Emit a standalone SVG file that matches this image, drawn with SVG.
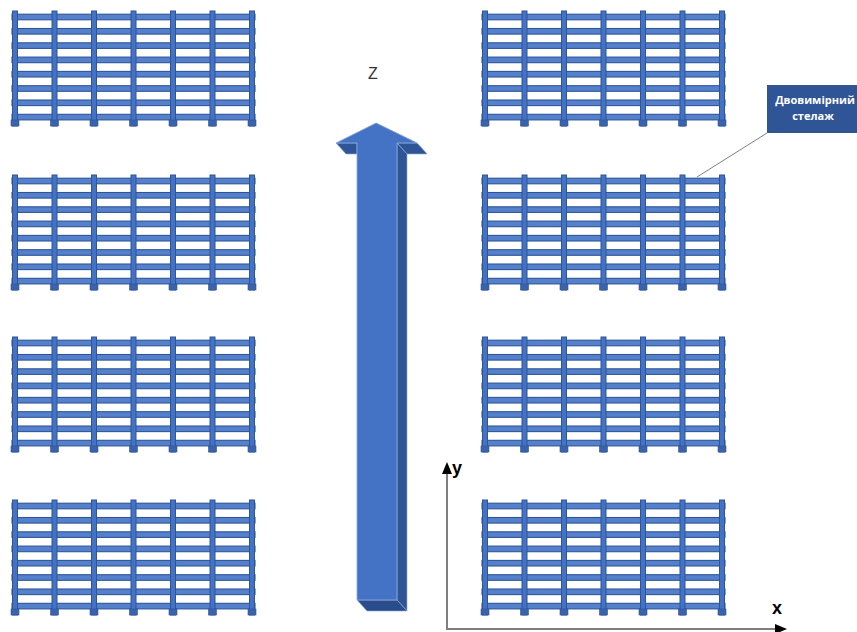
<svg xmlns="http://www.w3.org/2000/svg" xmlns:xlink="http://www.w3.org/1999/xlink" width="857" height="632" viewBox="0 0 857 632">
  <style>
    .bar { fill: #5580CC; stroke: #2F5597; stroke-width: 1.1; }
    .post { fill: #4472C4; stroke: #2F5597; stroke-width: 1; }
    .foot { fill: #3A63AE; stroke: #2F5597; stroke-width: 0.6; }
    .front { fill: #4472C4; stroke: #8FAADC; stroke-width: 0.8; stroke-linejoin: round; }
    .side { fill: #2F5597; stroke: #8FAADC; stroke-width: 0.6; stroke-linejoin: round; }
    .bottom { fill: #2A4C8A; stroke: #8FAADC; stroke-width: 0.6; stroke-linejoin: round; }
    .axis { stroke: #7F7F7F; stroke-width: 2; fill: none; }
    .head { fill: #000000; }
    .axlabel { font-family: "Liberation Sans", Arial, sans-serif; font-weight: bold; font-size: 18px; fill: #000000; }
    .zlabel { font-family: "Liberation Sans", Arial, sans-serif; font-size: 16px; fill: #333333; }
    .callout { fill: #2F5597; }
    .callout-text { font-family: "Open Sans", "Noto Sans", sans-serif; font-weight: bold; font-size: 11px; fill: #FFFFFF; text-anchor: middle; }
    .leader { stroke: #7F7F7F; stroke-width: 1; fill: none; }
  </style>
  <defs>
    <!-- one pallet rack: 7 uprights, 8 shelf beams -->
    <g id="rack">
      <rect class="bar" x="12" y="14.2" width="243" height="5.6"/>
      <rect class="bar" x="12" y="28.5" width="243" height="5.6"/>
      <rect class="bar" x="12" y="42.8" width="243" height="5.6"/>
      <rect class="bar" x="12" y="57.1" width="243" height="5.6"/>
      <rect class="bar" x="12" y="71.4" width="243" height="5.6"/>
      <rect class="bar" x="12" y="85.7" width="243" height="5.6"/>
      <rect class="bar" x="12" y="100" width="243" height="5.6"/>
      <rect class="bar" x="12" y="114.3" width="243" height="5.6"/>
      <g id="uprights">
        <rect class="post" x="12.5" y="11" width="5" height="115"/>
        <rect class="post" x="52" y="11" width="5" height="115"/>
        <rect class="post" x="91.5" y="11" width="5" height="115"/>
        <rect class="post" x="131" y="11" width="5" height="115"/>
        <rect class="post" x="170.5" y="11" width="5" height="115"/>
        <rect class="post" x="210" y="11" width="5" height="115"/>
        <rect class="post" x="249.5" y="11" width="5" height="115"/>
        <rect class="foot" x="11" y="120" width="8" height="6"/>
        <rect class="foot" x="50.5" y="120" width="8" height="6"/>
        <rect class="foot" x="90" y="120" width="8" height="6"/>
        <rect class="foot" x="129.5" y="120" width="8" height="6"/>
        <rect class="foot" x="169" y="120" width="8" height="6"/>
        <rect class="foot" x="208.5" y="120" width="8" height="6"/>
        <rect class="foot" x="248" y="120" width="8" height="6"/>
      </g>
    </g>
  </defs>

  <!-- left row of racks -->
  <g id="rack-l1"><use xlink:href="#rack" href="#rack"/></g>
  <g id="rack-l2"><use xlink:href="#rack" href="#rack" transform="translate(0,164)"/></g>
  <g id="rack-l3"><use xlink:href="#rack" href="#rack" transform="translate(0,326)"/></g>
  <g id="rack-l4"><use xlink:href="#rack" href="#rack" transform="translate(0,489)"/></g>

  <!-- right row of racks -->
  <g id="rack-r1"><use xlink:href="#rack" href="#rack" transform="translate(470,0)"/></g>
  <g id="rack-r2"><use xlink:href="#rack" href="#rack" transform="translate(470,164)"/></g>
  <g id="rack-r3"><use xlink:href="#rack" href="#rack" transform="translate(470,326)"/></g>
  <g id="rack-r4"><use xlink:href="#rack" href="#rack" transform="translate(470,489)"/></g>

  <!-- 3D block arrow along the aisle -->
  <g id="z-arrow">
    <polygon class="side" points="376,123 386,134 427,154 417,143"/>
    <polygon class="side" points="336,143 346,154 357,154 357,143"/>
    <polygon class="side" points="417,143 427,154 407,154 397,143"/>
    <polygon class="side" points="397,143 407,154 407,611 397,600"/>
    <polygon class="bottom" points="357,600 397,600 407,611 367,611"/>
    <polygon class="front" points="376,123 417,143 397,143 397,600 357,600 357,143 336,143"/>
  </g>
  <g id="z-label"><text class="zlabel" x="368" y="79">Z</text></g>

  <!-- callout -->
  <g id="callout">
    <rect class="callout" x="767" y="85" width="95" height="48"/>
    <text class="callout-text" x="815" y="104">Двовимірний</text>
    <text class="callout-text" x="813" y="120">стелаж</text>
  </g>

  <!-- connectors: callout leader and coordinate axes -->
  <g id="connectors">
    <line class="leader" x1="767" y1="133" x2="697" y2="177"/>
    <polyline class="axis" points="447,472 447,629 777,629"/>
    <polygon class="head" points="447,462 442,474 452,474"/>
    <polygon class="head" points="787,629 775,624 775,634"/>
  </g>
  <g id="axis-labels">
    <text class="axlabel" x="452" y="474">y</text>
    <text class="axlabel" x="772" y="614">x</text>
  </g>
</svg>
